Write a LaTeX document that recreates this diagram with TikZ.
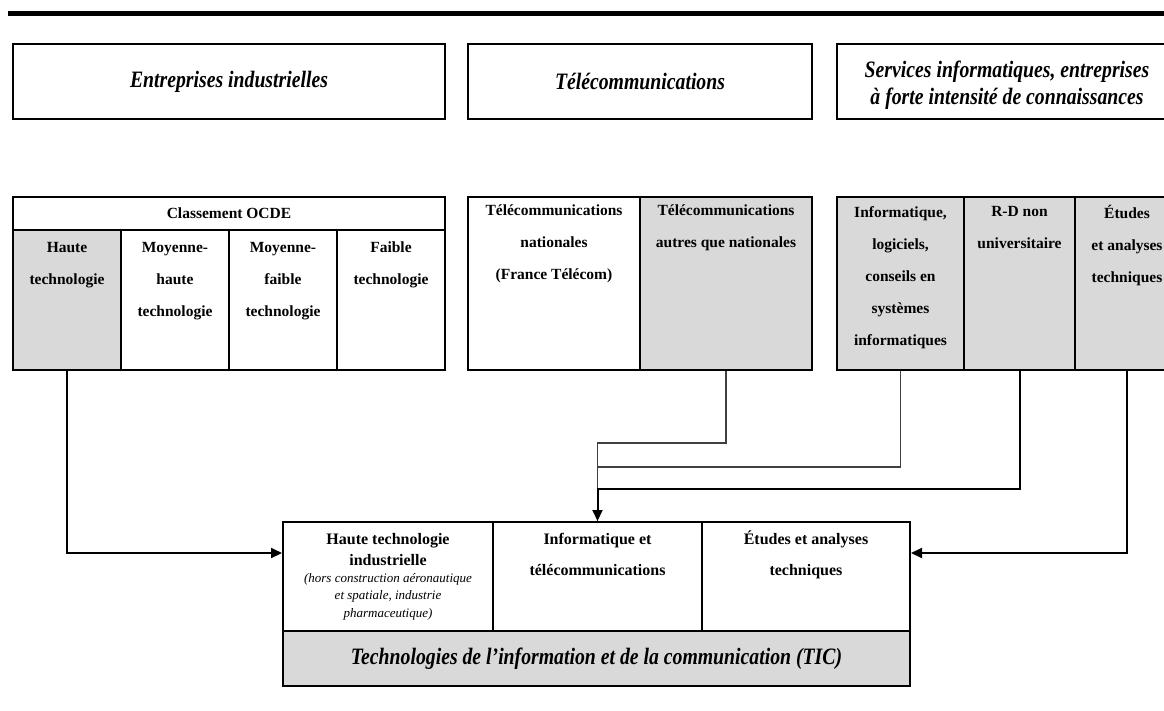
\documentclass[tikz,border=0pt]{standalone}
\usepackage{fontspec}
\setmainfont{Liberation Serif}
\newfontfamily\headfont{Liberation Serif}[FakeStretch=0.84]
\usetikzlibrary{arrows.meta}
\definecolor{cellgray}{RGB}{217,217,217}

\begin{document}
\begin{tikzpicture}[x=1pt, y=-1pt,
  box/.style={draw, line width=2pt, inner sep=0pt, anchor=north west},
  grayed/.style={fill=cellgray},
  head/.style={font=\headfont\bfseries\itshape\fontsize{23.5}{27}\selectfont, align=center},
  celltext/.style={font=\bfseries\fontsize{15.5}{32}\selectfont, align=center, anchor=north, inner sep=0pt},
  lowtext/.style={font=\bfseries\fontsize{16}{31}\selectfont, align=center, anchor=north, inner sep=0pt},
  notetext/.style={font=\itshape\fontsize{13}{17.5}\selectfont, align=center, anchor=north, inner sep=0pt},
  link/.style={line width=2pt},
  thinlink/.style={line width=1.4pt, draw=black!75},
  arr/.style={-{Triangle[length=11pt,width=10pt]}}
]
\clip (0,0) rectangle (1164,710);

% heavy rule along the top
\draw[line width=5pt] (8,13.5) -- (1180,13.5);

% sector headings
\node[box, minimum width=432, minimum height=75, head] (ent) at (12,43) {Entreprises industrielles};
\node[box, minimum width=344, minimum height=75, head] (tel) at (467,43) {Télécommunications};
\node[box, minimum width=340, minimum height=75] (serv) at (836,43) {};
\node[head, inner sep=0pt] (servT) at ([yshift=-4pt]serv.center)
  {Services informatiques, entreprises\\à forte intensité de connaissances};

% OECD classification of manufacturing
\node[box, minimum width=432, minimum height=33, font=\bfseries\fontsize{15.5}{17}\selectfont] (ocde) at (12,196) {Classement OCDE};
\node[box, grayed, minimum width=108, minimum height=140] (ht) at (12,229) {};
\node[box, minimum width=108, minimum height=140] (mh) at (120,229) {};
\node[box, minimum width=108, minimum height=140] (mf) at (228,229) {};
\node[box, minimum width=108, minimum height=140] (fa) at (336,229) {};
\node[celltext] (htT) at ([yshift=-13pt]ht.north) {Haute\\technologie};
\node[celltext] (mhT) at ([yshift=-13pt]mh.north) {Moyenne-\\haute\\technologie};
\node[celltext] (mfT) at ([yshift=-13pt]mf.north) {Moyenne-\\faible\\technologie};
\node[celltext] (faT) at ([yshift=-13pt]fa.north) {Faible\\technologie};

% telecommunications
\node[box, minimum width=172, minimum height=173] (tn) at (467,196) {};
\node[box, grayed, minimum width=172, minimum height=173] (tca) at (639,196) {};
\node[celltext] (tnT) at ([yshift=-9pt]tn.north) {Télécommunications\\nationales\\(France Télécom)};
\node[celltext] (tcaT) at ([yshift=-9pt]tca.north) {Télécommunications\\autres que nationales};

% services
\node[box, grayed, minimum width=127, minimum height=173] (inf) at (836,196) {};
\node[box, grayed, minimum width=111, minimum height=173] (rd) at (963,196) {};
\node[box, grayed, minimum width=104, minimum height=173] (eat) at (1074,196) {};
\node[celltext] (infT) at ([yshift=-10pt]inf.north) {Informatique,\\logiciels,\\conseils en\\systèmes\\informatiques};
\node[celltext] (rdT) at ([yshift=-10pt]rd.north) {R-D non\\universitaire};
\node[celltext] (eatT) at ([yshift=-9pt]eat.north) {Études\\et analyses\\techniques};

% ICT aggregate
\node[box, minimum width=210, minimum height=109] (b1) at (282,521) {};
\node[box, minimum width=209, minimum height=109] (b2) at (492,521) {};
\node[box, minimum width=208, minimum height=109] (b3) at (701,521) {};
\node[box, grayed, minimum width=627, minimum height=55, font=\headfont\bfseries\itshape\fontsize{23.5}{25}\selectfont] (tic) at (282,630)
  {Technologies de l’information et de la communication (TIC)};
\node[lowtext, font=\bfseries\fontsize{16}{21}\selectfont] (b1T) at ([yshift=-12pt]b1.north) {Haute technologie\\industrielle};
\node[notetext] (b1N) at ([yshift=-52pt]b1.north) {(hors construction aéronautique\\et spatiale, industrie\\pharmaceutique)};
\node[lowtext] (b2T) at ([yshift=-12pt]b2.north) {Informatique et\\télécommunications};
\node[lowtext] (b3T) at ([yshift=-10pt]b3.north) {Études et analyses\\techniques};

% connectors
\draw[link, arr] (ht.south) |- ([yshift=23.5pt]b1.west);
\draw[thinlink] (tca.south) -- ++(0,72) -| (b2.north);
\draw[thinlink] (inf.south) -- ++(0,96) -| (b2.north);
\draw[link, arr] (rd.south) -- ++(0,118) -| (b2.north);
\draw[link, arr] (eat.south) |- ([yshift=23.5pt]b3.east);
\end{tikzpicture}
\end{document}
